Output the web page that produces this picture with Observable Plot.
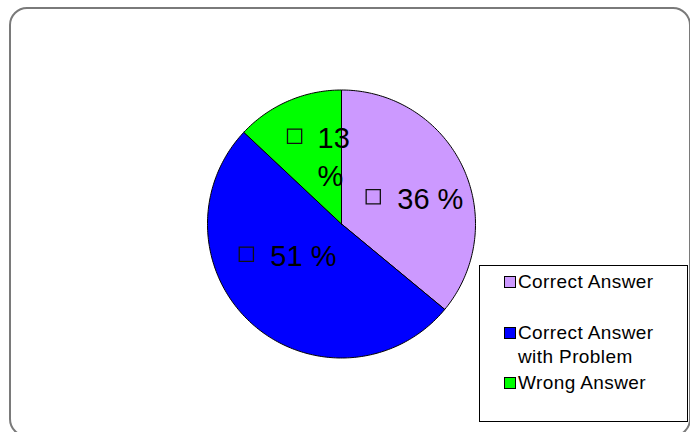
<!DOCTYPE html>
<html>
<head>
<meta charset="utf-8">
<script src="https://cdn.jsdelivr.net/npm/d3@7"></script>
<script src="https://cdn.jsdelivr.net/npm/@observablehq/plot@0.6"></script>
<style>
  html, body { margin: 0; padding: 0; background: #fff; }
  #wrap { position: relative; width: 690px; height: 432px; overflow: hidden; background: #fff;
          font-family: "Liberation Sans", Arial, sans-serif; }
  #wrap svg { position: absolute; left: 0; top: 0; }
  #frame { position: absolute; left: 9px; top: 7px; width: 682px; height: 430px; box-sizing: border-box;
           border: 2px solid #7a7a7a; border-radius: 18px; pointer-events: none; }
  #legend { position: absolute; left: 479px; top: 265px; width: 209px; height: 157px; box-sizing: border-box;
            border: 1.5px solid #000; background: #fff; }
  .lg-sw { position: absolute; width: 10px; height: 10px; border: 1px solid #000; }
  .lg-tx { position: absolute; font-size: 19px; line-height: 24px; letter-spacing: 0.4px; color: #000; width: 150px; }
</style>
</head>
<body>
<div id="wrap"></div>
<script>
// ---- data ----
const categories = ["Correct Answer", "Correct Answer with Problem", "Wrong Answer"];
const percents = [36, 51, 13];
const colors = ["#CC99FF", "#0000FF", "#00FF00"];

// ---- build slices from the data ----
const arcs = d3.pie().sort(null).value(d => d)(percents);
const slicePts = arcs.flatMap((a, i) => {
  const n = Math.max(2, Math.ceil((a.endAngle - a.startAngle) / (Math.PI / 180)));
  const pts = [{k: categories[i], x: 0, y: 0}];
  for (let j = 0; j <= n; j++) {
    const t = a.startAngle + (a.endAngle - a.startAngle) * j / n;
    pts.push({k: categories[i], x: Math.sin(t), y: Math.cos(t)});
  }
  pts.push({k: categories[i], x: 0, y: 0});
  return pts;
});
const labelR = 0.6;
const labels = arcs.map((a, i) => {
  const m = (a.startAngle + a.endAngle) / 2;
  return {k: categories[i], x: labelR * Math.sin(m), y: labelR * Math.cos(m), text: `${percents[i]} %`};
});

// per-label nudges (layout)
const nudge = [
  {dx: -17, dy: 7, sqdx: -24, sqdy: 0, lw: null},
  {dx: -18, dy: -30, sqdx: -24, sqdy: 0, lw: null},
  {dx: 8, dy: 5, sqdx: -23, sqdy: -19, lw: 1.5}
];

const labelMarks = labels.flatMap((d, i) => {
  const n = nudge[i];
  return [
    Plot.text([d], {x: "x", y: "y", text: "text", dx: n.dx, dy: n.dy, textAnchor: "start",
      fontSize: 29, fill: "#000", lineHeight: 1.3, ...(n.lw ? {lineWidth: n.lw} : {})}),
    Plot.dot([d], {x: "x", y: "y", dx: n.dx + n.sqdx, dy: n.dy + n.sqdy, symbol: "square", r: 8,
      fill: "none", stroke: "#111", strokeWidth: 1.3})
  ];
});

const chart = Plot.plot({
  width: 690,
  height: 432,
  marginLeft: 207,
  marginRight: 690 - 475,
  marginTop: 89.5,
  marginBottom: 432 - 357.5,
  x: {domain: [-1, 1], axis: null},
  y: {domain: [-1, 1], axis: null},
  color: {domain: categories, range: colors},
  style: {background: "transparent", fontFamily: "'Liberation Sans', Arial, sans-serif"},
  marks: [
    Plot.line(slicePts, {x: "x", y: "y", z: "k", fill: "k", stroke: "#000", strokeWidth: 1, curve: "linear"}),
    ...labelMarks
  ]
});

const wrap = document.getElementById("wrap");
wrap.appendChild(chart);

// ---- legend ----
const legend = document.createElement("div");
legend.id = "legend";
wrap.appendChild(legend);
const rowTops = [270, 321, 371];
categories.forEach((c, i) => {
  const sw = document.createElement("div");
  sw.className = "lg-sw";
  sw.style.left = "504px";
  sw.style.top = (rowTops[i] + 6) + "px";
  sw.style.background = colors[i];
  wrap.appendChild(sw);
  const tx = document.createElement("div");
  tx.className = "lg-tx";
  tx.style.left = "518px";
  tx.style.top = rowTops[i] + "px";
  tx.textContent = c;
  wrap.appendChild(tx);
});

const frame = document.createElement("div");
frame.id = "frame";
wrap.appendChild(frame);
</script>
</body>
</html>
